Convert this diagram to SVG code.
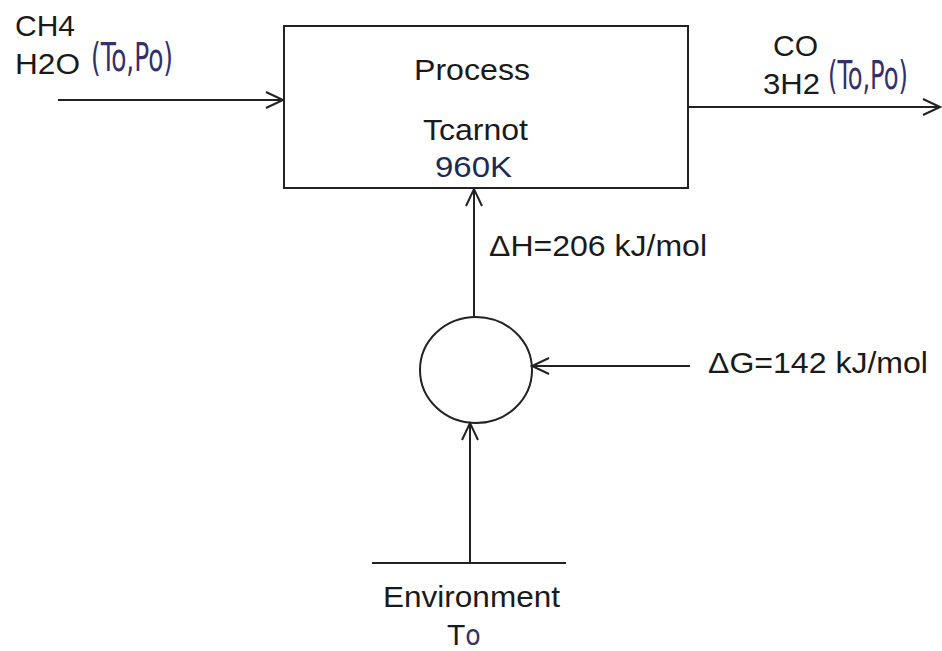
<svg xmlns="http://www.w3.org/2000/svg" width="942" height="651" viewBox="0 0 942 651">
  <defs>
    <marker id="arr" markerUnits="userSpaceOnUse" markerWidth="24" markerHeight="24" viewBox="-20 -12 24 24" refX="0" refY="0" orient="auto">
      <path d="M-17,-8 L0,0 L-17,8" fill="none" stroke="#222" stroke-width="2"/>
    </marker>
  </defs>
  <style>
    .ln { fill: none; stroke: #222; stroke-width: 2; }
    .t { font-family: "Liberation Sans", Arial, sans-serif; font-size: 30px; fill: #1a1a1a; }
    .c { font-family: "Liberation Sans Narrow", "DejaVu Sans Condensed", "Liberation Sans", sans-serif; font-size: 28px; fill: #35306a; }
    .k { fill: #1c2b55; }
  </style>
  <rect width="942" height="651" fill="#ffffff"/>

  <g id="connectors">
    <path class="ln" d="M58,100 H283" marker-end="url(#arr)"/>
    <path class="ln" d="M688,107 H940" marker-end="url(#arr)"/>
    <path class="ln" d="M474,317 V189" marker-end="url(#arr)"/>
    <path class="ln" d="M690,366 H532" marker-end="url(#arr)"/>
    <path class="ln" d="M470,563 V423" marker-end="url(#arr)"/>
  </g>

  <g id="input">
    <text class="t" x="15" y="36">CH4</text>
    <text class="t" x="15" y="74" textLength="65" lengthAdjust="spacingAndGlyphs">H2O</text>
    <text class="c" transform="translate(91,71) scale(1,1.42)" textLength="82" lengthAdjust="spacingAndGlyphs">(To,Po)</text>
  </g>

  <g id="process">
    <rect class="ln" x="284" y="26" width="404" height="162"/>
    <text class="t" x="414" y="80" textLength="116" lengthAdjust="spacingAndGlyphs">Process</text>
    <text class="t" x="423" y="140" textLength="105" lengthAdjust="spacingAndGlyphs">Tcarnot</text>
    <text class="t k" x="435" y="177" textLength="77" lengthAdjust="spacingAndGlyphs">960K</text>
  </g>

  <g id="output">
    <text class="t" x="773" y="56" fill="#333">CO</text>
    <text class="t" x="763" y="94" textLength="57" lengthAdjust="spacingAndGlyphs">3H2</text>
    <text class="c" transform="translate(828,89) scale(1,1.42)" textLength="80" lengthAdjust="spacingAndGlyphs">(To,Po)</text>
  </g>

  <g id="dH-label">
    <text class="t" x="489" y="256" textLength="218" lengthAdjust="spacingAndGlyphs">ΔH=206 kJ/mol</text>
  </g>

  <g id="engine">
    <ellipse class="ln" cx="476" cy="370" rx="56" ry="53"/>
  </g>

  <g id="dG-label">
    <text class="t" x="708" y="373" textLength="220" lengthAdjust="spacingAndGlyphs">ΔG=142 kJ/mol</text>
  </g>

  <g id="environment">
    <path class="ln" d="M372,563 H566"/>
    <text class="t" x="383" y="607" textLength="177" lengthAdjust="spacingAndGlyphs">Environment</text>
    <text class="t" x="447" y="645">T<tspan class="c">o</tspan></text>
  </g>
</svg>
